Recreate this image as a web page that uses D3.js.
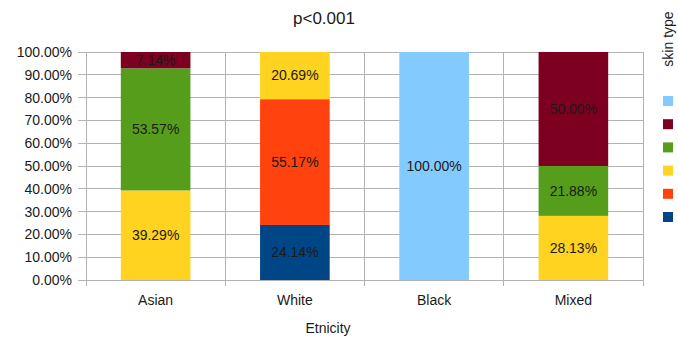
<!DOCTYPE html>
<html><head><meta charset="utf-8">
<script src="https://cdn.jsdelivr.net/npm/d3@7"></script>
<style>body{margin:0;background:#fff;overflow:hidden}svg{display:block}text{font-family:"Liberation Sans",Arial,sans-serif}</style>
</head><body><svg id="c" width="678" height="339"></svg>
<script>
const categories = ["Asian", "White", "Black", "Mixed"];
const seriesNames = ["I", "II", "III", "IV", "V", "VI"];
const seriesColors = ["#004586", "#ff420e", "#ffd320", "#579d1c", "#7e0021", "#83caff"];
const typeI   = [0, 24.14, 0, 0];
const typeII  = [0, 55.17, 0, 0];
const typeIII = [39.29, 20.69, 0, 28.13];
const typeIV  = [53.57, 0, 0, 21.88];
const typeV   = [7.14, 0, 0, 50.00];
const typeVI  = [0, 0, 100.00, 0];
const yTicks = [0,10,20,30,40,50,60,70,80,90,100];
const title = "p<0.001", xTitle = "Etnicity", legendTitle = "skin type";

const seriesVals = [typeI, typeII, typeIII, typeIV, typeV, typeVI];
const rows = categories.map((c,i)=>{const r={cat:c}; seriesNames.forEach((s,j)=>r[s]=seriesVals[j][i]); return r;});
const stack = d3.stack().keys(seriesNames)(rows);

const svg = d3.select("#c");
const L=86, R=643, T=52, B=280;
const x = d3.scaleBand().domain(categories).range([L,R]).paddingInner(0.5).paddingOuter(0.25);
const xb = d3.scaleBand().domain(categories).range([L,R]);
const y = d3.scaleLinear().domain([0,100]).range([B,T]);
const grid="#b3b3b3", ink="#1a1a1a", fs=14;

svg.append("g").selectAll("line").data(yTicks).join("line")
  .attr("x1",L-8).attr("x2",R).attr("y1",d=>y(d)).attr("y2",d=>y(d))
  .attr("stroke",grid).attr("stroke-width",1).attr("shape-rendering","crispEdges");
const bounds = categories.map(c=>xb(c)).concat([R]);
svg.append("g").selectAll("line").data(bounds).join("line")
  .attr("x1",d=>d).attr("x2",d=>d).attr("y1",T).attr("y2",B+6)
  .attr("stroke",grid).attr("stroke-width",1).attr("shape-rendering","crispEdges");

svg.append("g").selectAll("text").data(yTicks).join("text")
  .attr("x",72).attr("y",d=>y(d)).attr("dy","0.35em").attr("text-anchor","end")
  .attr("font-size",fs).attr("fill",ink).text(d=>d3.format(".2f")(d)+"%");

const g = svg.append("g");
stack.forEach((s,j)=>{
  g.append("g").selectAll("rect").data(s.filter(d=>d[1]-d[0]>0)).join("rect")
    .attr("x",d=>x(d.data.cat)).attr("width",x.bandwidth())
    .attr("y",d=>y(d[1])).attr("height",d=>y(d[0])-y(d[1]))
    .attr("fill",seriesColors[j]);
});
stack.forEach((s,j)=>{
  g.append("g").selectAll("text").data(s.filter(d=>d[1]-d[0]>0)).join("text")
    .attr("x",d=>x(d.data.cat)+x.bandwidth()/2).attr("y",d=>y((d[0]+d[1])/2))
    .attr("dy","0.35em").attr("text-anchor","middle").attr("font-size",fs).attr("fill",ink)
    .text(d=>d3.format(".2f")(d[1]-d[0])+"%");
});

svg.append("line").attr("x1",L).attr("x2",L).attr("y1",T).attr("y2",B).attr("stroke",grid).attr("shape-rendering","crispEdges");
svg.append("line").attr("x1",L).attr("x2",R).attr("y1",B).attr("y2",B).attr("stroke",grid).attr("shape-rendering","crispEdges");

svg.append("g").selectAll("text").data(categories).join("text")
  .attr("x",d=>x(d)+x.bandwidth()/2).attr("y",300).attr("dy","0.35em").attr("text-anchor","middle")
  .attr("font-size",fs).attr("fill",ink).text(d=>d);

svg.append("text").attr("x",328).attr("y",328).attr("dy","0.35em").attr("text-anchor","middle")
  .attr("font-size",fs).attr("fill",ink).text(xTitle);
svg.append("text").attr("x",324).attr("y",18).attr("dy","0.35em").attr("text-anchor","middle")
  .attr("font-size",17).attr("fill",ink).text(title);

svg.append("text").attr("transform","translate(673,39) rotate(-90)").attr("text-anchor","middle")
  .attr("font-size",fs).attr("fill",ink).text(legendTitle);
const legOrder = d3.range(seriesNames.length).reverse();
svg.append("g").selectAll("rect").data(legOrder).join("rect")
  .attr("x",663).attr("y",(d,i)=>96+i*23.2).attr("width",10).attr("height",10)
  .attr("fill",d=>seriesColors[d]);
</script></body></html>
